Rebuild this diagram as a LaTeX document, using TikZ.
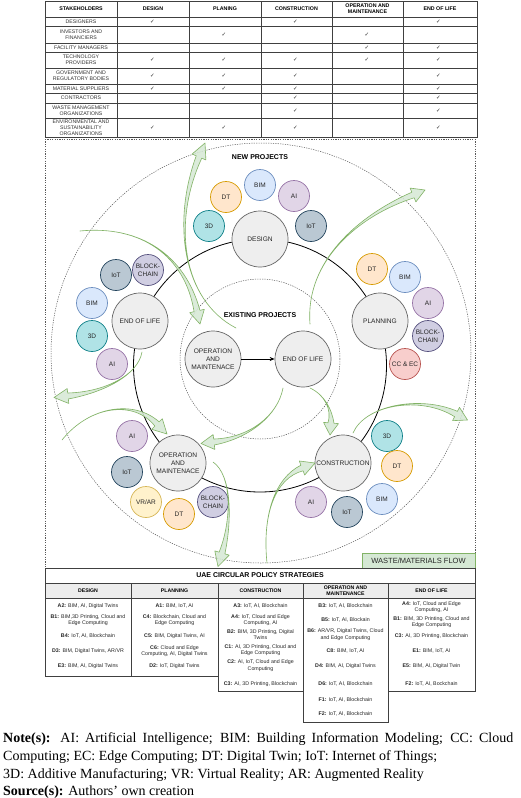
\documentclass[tikz,border=0pt]{standalone}
\usepackage{fontspec}
\setmainfont{Liberation Serif}
\setsansfont{Liberation Sans}
\newfontfamily\symfont{DejaVu Sans}
\usetikzlibrary{calc,arrows.meta}
\definecolor{stagefill}{HTML}{EEEEEE}
\definecolor{stagedraw}{HTML}{666666}
\definecolor{bimF}{HTML}{DAE8FC}\definecolor{bimD}{HTML}{6C8EBF}
\definecolor{aiF}{HTML}{E1D5E7}\definecolor{aiD}{HTML}{9673A6}
\definecolor{dtF}{HTML}{FFE6CC}\definecolor{dtD}{HTML}{D79B00}
\definecolor{tdF}{HTML}{B0E3E6}\definecolor{tdD}{HTML}{0E8088}
\definecolor{iotF}{HTML}{BAC8D3}\definecolor{iotD}{HTML}{23445D}
\definecolor{bcF}{HTML}{D0CEE2}\definecolor{bcD}{HTML}{56517E}
\definecolor{ccF}{HTML}{F8CECC}\definecolor{ccD}{HTML}{B85450}
\definecolor{vrF}{HTML}{FFF2CC}\definecolor{vrD}{HTML}{D6B656}
\definecolor{gF}{HTML}{D5E8D4}\definecolor{gD}{HTML}{82B366}
\tikzset{
 tline/.style={draw=black!75, line width=0.6pt},
 thead/.style={font=\sffamily\bfseries\fontsize{5.3}{5.9}\selectfont, align=center, inner sep=0pt},
 tcell/.style={font=\sffamily\fontsize{5.2}{6.2}\selectfont, align=center, inner sep=0pt, text=black!80},
 chk/.style={font=\symfont\fontsize{5.5}{6}\selectfont, inner sep=0pt, text=black!85},
 stage/.style={circle, draw=stagedraw, fill=stagefill, minimum size=56pt, inner sep=0pt, align=center, font=\sffamily\fontsize{6.6}{8}\selectfont, line width=0.7pt, text=black!85},
 tech/.style={circle, minimum size=31pt, inner sep=0pt, align=center, font=\sffamily\fontsize{6.5}{7.6}\selectfont, line width=0.7pt, text=black!85},
 tbim/.style={tech, fill=bimF, draw=bimD},
 tai/.style={tech, fill=aiF, draw=aiD},
 tdt/.style={tech, fill=dtF, draw=dtD},
 tthreed/.style={tech, fill=tdF, draw=tdD},
 tiot/.style={tech, fill=iotF, draw=iotD},
 tbc/.style={tech, fill=bcF, draw=bcD},
 tcc/.style={tech, fill=ccF, draw=ccD},
 tvr/.style={tech, fill=vrF, draw=vrD},
 dotline/.style={draw=black!65, line width=0.5pt, dash pattern=on 1.2pt off 1.2pt},
 greenstyle/.style={fill=gF, fill opacity=0.85, draw=gD, line width=0.6pt, line join=round},
 seclabel/.style={font=\sffamily\bfseries\fontsize{7}{8}\selectfont, inner sep=0pt},
 btitle/.style={font=\sffamily\bfseries\fontsize{7}{8}\selectfont, inner sep=0pt},
 bhead/.style={font=\sffamily\bfseries\fontsize{5.2}{6}\selectfont, align=center, inner sep=0pt},
 bent/.style={font=\sffamily\fontsize{5.3}{6.4}\selectfont, align=center, inner sep=0pt, text=black!85},
 notetext/.style={font=\fontsize{14}{16}\selectfont, anchor=west, inner sep=0pt},
}
\newcommand{\greenflow}[6]{%
 \coordinate (#1t) at (#2);\coordinate (#1a) at (#3);\coordinate (#1b) at (#4);
 \coordinate (#1e) at (#5);\coordinate (#1p) at (#6);
 \filldraw[greenstyle] (#1t) .. controls (#1a) and (#1b) .. ($(#1e)!3pt!90:(#1p)$)
   -- ($(#1e)!7.5pt!90:(#1p)$) -- (#1p) -- ($(#1e)!7.5pt!-90:(#1p)$)
   -- ($(#1e)!3pt!-90:(#1p)$) .. controls (#1b) and (#1a) .. (#1t) -- cycle;
}
\begin{document}
\begin{tikzpicture}[x=1pt,y=-1pt]
\useasboundingbox (0,0) rectangle (520,798);
\fill[white] (0,0) rectangle (520,798);

% ---------------- top table
\draw[tline] (45,1) rectangle (477,137);
\foreach \x in {117,189,261,332,403} \draw[tline] (\x,1) -- (\x,137);
\foreach \y in {17,26,43,52,68,84,93,103,118} \draw[tline] (45,\y) -- (477,\y);
\node[thead] (h0) at (81,9) {STAKEHOLDERS};
\node[thead] (h1) at (153,9) {DESIGN};
\node[thead] (h2) at (225,9) {PLANING};
\node[thead] (h3) at (296.5,9) {CONSTRUCTION};
\node[thead] (h4) at (367.5,9) {OPERATION AND\\MAINTENANCE};
\node[thead] (h5) at (440,9) {END OF LIFE};
\node[tcell] (s1) at (81,21.5) {DESIGNERS};
\node[tcell] (s2) at (81,34.5) {INVESTORS AND\\FINANCIERS};
\node[tcell] (s3) at (81,47.5) {FACILITY MANAGERS};
\node[tcell] (s4) at (81,60) {TECHNOLOGY\\PROVIDERS};
\node[tcell] (s5) at (81,76) {GOVERNMENT AND\\REGULATORY BODIES};
\node[tcell] (s6) at (81,88.5) {MATERIAL SUPPLIERS};
\node[tcell] (s7) at (81,98) {CONTRACTORS};
\node[tcell] (s8) at (81,110.5) {WASTE MANAGEMENT\\ORGANIZATIONS};
\node[tcell] (s9) at (81,127.5) {ENVIRONMENTAL AND\\SUSTAINABILITY\\ORGANIZATIONS};
\foreach \i/\y/\cols in {1/21.5/{1,3,5},2/34.5/{2,4},3/47.5/{4,5},4/60/{1,2,3,4,5},5/76/{1,2,3,5},6/88.5/{1,2,3,5},7/98/{3,5},8/110.5/{3,5},9/127.5/{1,2,3,5}}{
  \foreach \j in \cols { \node[chk] (k\i\j) at ({81+71.5*\j},\y) {✓}; }
}

% ---------------- middle frame
\draw[dotline] (45,139) -- (45,568);
\draw[dotline] (475,139) -- (475,568);
\draw[dotline] (45,139) -- (475,139);
\draw[dotline] (261,353) circle[radius=210pt];
\draw[dotline] (260,359) circle[radius=80pt];
\draw[black, line width=0.8pt] (260,365.5) circle[radius=126.5pt];

\node[seclabel] (newp) at (260,157) {NEW PROJECTS};
\node[seclabel] (exip) at (260,315) {EXISTING PROJECTS};

% stage nodes
\node[stage] (design) at (260,239) {DESIGN};
\node[stage] (plan) at (380,321) {PLANNING};
\node[stage] (cons) at (343,463) {CONSTRUCTION};
\node[stage] (om) at (178,463) {OPERATION\\AND\\MAINTENACE};
\node[stage] (eol) at (140,321) {END OF LIFE};
\node[stage] (eom) at (213,359) {OPERATION\\AND\\MAINTENACE};
\node[stage] (eeol) at (303,359) {END OF LIFE};
\draw[black, line width=0.8pt, -{Stealth[length=5pt,width=4pt]}] (eom) -- (eeol);

% technology circles
\node[tthreed] (d3d) at (209,226) {3D};
\node[tdt] (ddt) at (226,197) {DT};
\node[tbim] (dbim) at (260,185) {BIM};
\node[tai] (dai) at (294,196) {AI};
\node[tiot] (diot) at (311,226) {IoT};

\node[tiot] (eiot) at (116,275) {IoT};
\node[tbc] (ebc) at (148,270) {BLOCK-\\CHAIN};
\node[tbim] (ebim) at (92,303) {BIM};
\node[tthreed] (e3d) at (92,336) {3D};
\node[tai] (eai) at (112,364) {AI};

\node[tdt] (pdt) at (372,269) {DT};
\node[tbim] (pbim) at (405,277) {BIM};
\node[tai] (pai) at (428,303) {AI};
\node[tbc] (pbc) at (428,336) {BLOCK-\\CHAIN};
\node[tcc] (pcc) at (405,364) {CC \& EC};

\node[tai] (oai) at (132,436) {AI};
\node[tiot] (oiot) at (127,472) {IoT};
\node[tvr] (ovr) at (146,502) {VR/AR};
\node[tdt] (odt) at (179,514) {DT};
\node[tbc] (obc) at (213,502) {BLOCK-\\CHAIN};

\node[tthreed] (c3d) at (387,436) {3D};
\node[tdt] (cdt) at (397,466) {DT};
\node[tbim] (cbim) at (382,499) {BIM};
\node[tiot] (ciot) at (347,512) {IoT};
\node[tai] (cai) at (311,502) {AI};

% green flows
\greenflow{fa}{236,328}{182,300}{172,222}{199,157}{205,143}
\greenflow{fb}{80,231}{140,225}{185,255}{197,311}{200,324}
\greenflow{fc}{310,324}{305,260}{360,215}{413,195}{425,190}
\greenflow{fd}{142,352}{138,375}{105,392}{68,396}{54,397.5}
\greenflow{fe}{62,440}{90,405}{135,400}{157,424}{167,434}
\greenflow{ff}{283,388}{278,415}{250,438}{214,442}{201,443.5}
\greenflow{fg}{213,462}{232,475}{232,520}{222,553}{218,566.5}
\greenflow{fh}{267,563}{262,515}{275,478}{302,468}{315,463}
\greenflow{fi}{310,388}{325,395}{332,410}{331,423}{330,435}
\greenflow{fj}{353,433}{365,405}{420,395}{456,414}{467.5,420}

\node[draw=gD, fill=gF, minimum width=113pt, minimum height=15pt, inner sep=0pt, font=\sffamily\fontsize{7.5}{8}\selectfont, text=black!85] (waste) at (418.5,560.5) {WASTE/MATERIALS FLOW};

% ---------------- bottom table
\draw[tline] (45,568) rectangle (475,583);
\node[btitle] (btt) at (260,575.5) {UAE CIRCULAR POLICY STRATEGIES};
\filldraw[tline, fill=black!7] (45,583) rectangle (475,598);
\draw[tline] (45,583) rectangle (131,676);
\draw[tline] (131,583) rectangle (218,676);
\draw[tline] (218,583) rectangle (303,691);
\draw[tline] (303,583) rectangle (388,722);
\draw[tline] (388,583) rectangle (475,691);
\node[bhead] (bh1) at (88,590.5) {DESIGN};
\node[bhead] (bh2) at (174.5,590.5) {PLANNING};
\node[bhead] (bh3) at (260.5,590.5) {CONSTRUCTION};
\node[bhead] (bh4) at (345.5,590.5) {OPERATION AND\\MAINTENANCE};
\node[bhead] (bh5) at (431.5,590.5) {END OF LIFE};

\node[bent] (e11) at (88,606) {\textbf{A2:} BIM, AI, Digital Twins};
\node[bent] (e12) at (88,620) {\textbf{B1:} BIM,3D Printing, Cloud and\\Edge Computing};
\node[bent] (e13) at (88,636) {\textbf{B4:} IoT, AI, Blockchain};
\node[bent] (e14) at (88,651) {\textbf{D3:} BIM, Digital Twins, AR/VR};
\node[bent] (e15) at (88,666) {\textbf{E3:} BIM, AI, Digital Twins};

\node[bent] (e21) at (174.5,606) {\textbf{A1:} BIM, IoT, AI};
\node[bent] (e22) at (174.5,620) {\textbf{C4:} Blockchain, Cloud and\\Edge Computing};
\node[bent] (e23) at (174.5,636) {\textbf{C5:} BIM, Digital Twins, AI};
\node[bent] (e24) at (174.5,651) {\textbf{C6:} Cloud and Edge\\Computing, AI, Digital Twins};
\node[bent] (e25) at (174.5,666) {\textbf{D2:} IoT, Digital Twins};

\node[bent] (e31) at (260.5,606) {\textbf{A3:} IoT, AI, Blockchain};
\node[bent] (e32) at (260.5,620) {\textbf{A4:} IoT, Cloud and Edge\\Computing, AI};
\node[bent] (e33) at (260.5,634.5) {\textbf{B2:} BIM, 3D Printing, Digital\\Twins};
\node[bent] (e34) at (260.5,650) {\textbf{C1:} AI, 3D Printing, Cloud and\\Edge Computing};
\node[bent] (e35) at (260.5,665.5) {\textbf{C2:} AI, IoT, Cloud and Edge\\Computing};
\node[bent] (e36) at (260.5,684) {\textbf{C3:} AI, 3D Printing, Blockchain};

\node[bent] (e41) at (345.5,606) {\textbf{B3:} IoT, AI, Blockchain};
\node[bent] (e42) at (345.5,620) {\textbf{B5:} IoT, AI, Blockain};
\node[bent] (e43) at (345.5,634.5) {\textbf{B6:} AR/VR, Digital Twins, Cloud\\and Edge Computing};
\node[bent] (e44) at (345.5,651) {\textbf{C8:} BIM, IoT, AI};
\node[bent] (e45) at (345.5,666) {\textbf{D4:} BIM, AI, Digital Twins};
\node[bent] (e46) at (345.5,684) {\textbf{D6:} IoT, AI, Blockchain};
\node[bent] (e47) at (345.5,700) {\textbf{F1:} IoT, AI, Blockchain};
\node[bent] (e48) at (345.5,714) {\textbf{F2:} IoT, AI, Blockchain};

\node[bent] (e51) at (431.5,607) {\textbf{A4:} IoT, Cloud and Edge\\Computing, AI};
\node[bent] (e52) at (431.5,622) {\textbf{B1:} BIM, 3D Printing, Cloud and\\Edge Computing};
\node[bent] (e53) at (431.5,636) {\textbf{C3:} AI, 3D Printing, Blockchain};
\node[bent] (e54) at (431.5,651) {\textbf{E1:} BIM, IoT, AI};
\node[bent] (e55) at (431.5,666) {\textbf{E5:} BIM, AI, Digital Twin};
\node[bent] (e56) at (431.5,684) {\textbf{F2:} IoT, AI, Bockchain};

% ---------------- notes
\node[notetext] (n1) at (3,739) {\makebox[510pt][s]{\textbf{Note(s):} AI: Artificial Intelligence; BIM: Building Information Modeling; CC: Cloud}};
\node[notetext] (n2) at (3,757) {Computing; EC: Edge Computing; DT: Digital Twin; IoT: Internet of Things;};
\node[notetext] (n3) at (3,775) {3D: Additive Manufacturing; VR: Virtual Reality; AR: Augmented Reality};
\node[notetext] (n4) at (3,792) {\textbf{Source(s):} Authors’ own creation};
\end{tikzpicture}
\end{document}
